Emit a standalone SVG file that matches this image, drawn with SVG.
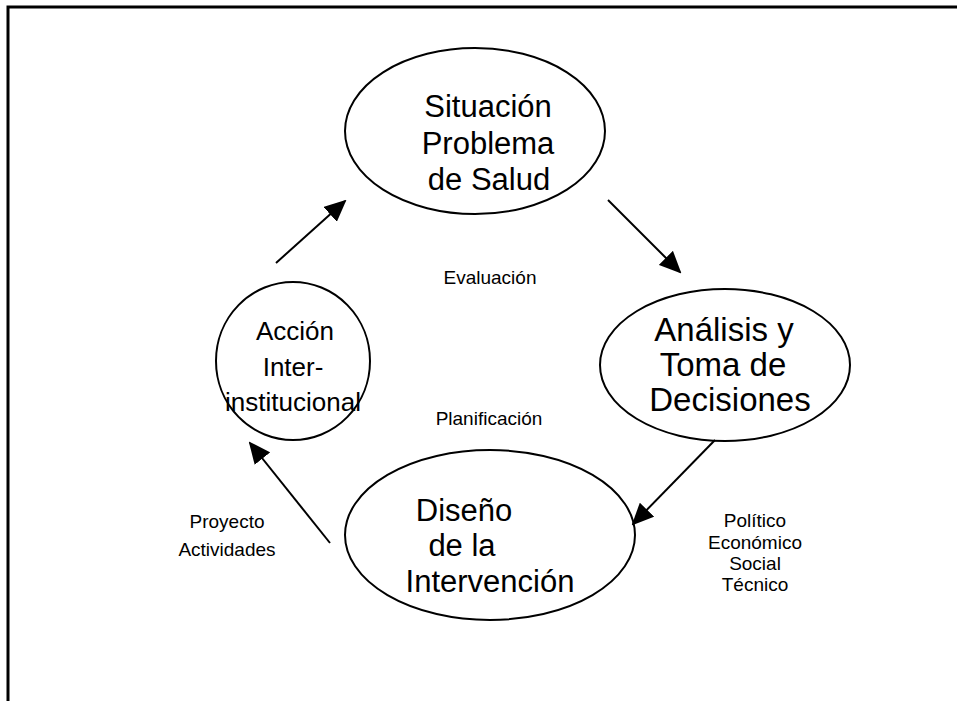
<svg xmlns="http://www.w3.org/2000/svg" width="957" height="701" viewBox="0 0 957 701">
<style>
.big{font-family:"Liberation Sans",Arial,sans-serif;fill:#000;text-anchor:middle}
.t{font-size:31px}.r{font-size:33px}.l{font-size:26px}.b{font-size:31px}
.sm{font-family:"Liberation Sans",Arial,sans-serif;font-size:19px;fill:#000;text-anchor:middle}
ellipse{fill:#fff;stroke:#000;stroke-width:2}
.c{stroke:#000;stroke-width:2;fill:none;marker-end:url(#ah)}
</style>
<defs>
<marker id="ah" markerWidth="11" markerHeight="10" refX="10" refY="5" orient="auto" markerUnits="strokeWidth">
<path d="M0,0 L11,5 L0,10 Z" fill="#000"/>
</marker>
</defs>
<rect width="957" height="701" fill="#fff"/>
<path d="M8,701 V7 H957" fill="none" stroke="#000" stroke-width="3"/>
<g id="n1"><ellipse cx="475" cy="131" rx="130" ry="83"/>
<text class="big t" x="488" y="117">Situación</text>
<text class="big t" x="488" y="154">Problema</text>
<text class="big t" x="489" y="190">de Salud</text></g>
<g id="n2"><ellipse cx="725" cy="365" rx="125" ry="76"/>
<text class="big r" x="724" y="341">Análisis y</text>
<text class="big r" x="723" y="376">Toma de</text>
<text class="big r" x="730" y="411">Decisiones</text></g>
<g id="n3"><ellipse cx="293" cy="361" rx="77" ry="79"/>
<text class="big l" x="295" y="340">Acción</text>
<text class="big l" x="293" y="376">Inter-</text>
<text class="big l" x="293" y="411">institucional</text></g>
<g id="n4"><ellipse cx="490" cy="535" rx="145" ry="85"/>
<text class="big b" x="464" y="521">Diseño</text>
<text class="big b" x="462" y="556">de la</text>
<text class="big b" x="490" y="592">Intervención</text></g>
<g id="labels">
<text class="sm" x="490" y="284">Evaluación</text>
<text class="sm" x="489" y="425">Planificación</text>
<text class="sm" x="227" y="528">Proyecto</text>
<text class="sm" x="227" y="556">Actividades</text>
<text class="sm" x="755" y="527">Político</text>
<text class="sm" x="755" y="549">Económico</text>
<text class="sm" x="755" y="570">Social</text>
<text class="sm" x="755" y="591">Técnico</text>
</g>
<g id="connectors">
<line class="c" x1="276" y1="263" x2="345" y2="201"/>
<line class="c" x1="608" y1="200" x2="680" y2="272"/>
<line class="c" x1="715" y1="440" x2="633" y2="524"/>
<line class="c" x1="330" y1="543" x2="250" y2="443"/>
</g>
</svg>
